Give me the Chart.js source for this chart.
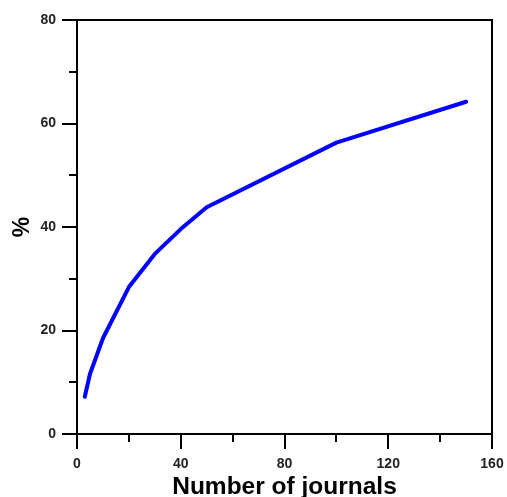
<!DOCTYPE html>
<html>
<head>
<meta charset="utf-8">
<script src="https://cdn.jsdelivr.net/npm/chart.js@4"></script>
<style>
  html, body { margin: 0; padding: 0; background: #fff; overflow: hidden; }
  #wrap { width: 507px; height: 497px; }
</style>
</head>
<body>
<div id="wrap"><canvas id="journalChart"></canvas></div>
<script>
const journals = [3, 5, 10, 20, 30, 40, 50, 100, 150];
const percent = [7.2, 11.6, 18.5, 28.4, 34.8, 39.6, 43.8, 56.3, 64.2];
const xMajor = [0, 40, 80, 120, 160];
const yMajor = [0, 20, 40, 60, 80];
const xMinor = [20, 60, 100, 140];
const yMinor = [10, 30, 50, 70];

// top/right frame lines plus all the outward ticks (major long, minor short)
const frameAndTicks = {
  id: "frameAndTicks",
  afterDraw(chart) {
    const ctx = chart.ctx;
    const a = chart.chartArea;
    const x = chart.scales.x;
    const y = chart.scales.y;
    ctx.save();
    ctx.strokeStyle = "#000";
    ctx.lineWidth = 2;
    ctx.beginPath();
    ctx.moveTo(a.left, a.top);
    ctx.lineTo(a.right, a.top);
    ctx.lineTo(a.right, a.bottom);
    ctx.stroke();

    ctx.beginPath();
    const xt = (v, len) => {
      const px = Math.round(x.getPixelForValue(v));
      ctx.moveTo(px, a.bottom);
      ctx.lineTo(px, a.bottom + len);
    };
    const yt = (v, len) => {
      const py = Math.round(y.getPixelForValue(v));
      ctx.moveTo(a.left, py);
      ctx.lineTo(a.left - len, py);
    };
    xMajor.forEach((v) => xt(v, 15));
    yMajor.forEach((v) => yt(v, 15));
    xMinor.forEach((v) => xt(v, 8));
    yMinor.forEach((v) => yt(v, 8));
    ctx.stroke();
    ctx.restore();
  },
};

new Chart(document.getElementById("journalChart"), {
  type: "line",
  data: {
    datasets: [
      {
        data: journals.map((j, i) => ({ x: j, y: percent[i] })),
        borderColor: "#0000ff",
        borderWidth: 4,
        pointRadius: 0,
        fill: false,
        tension: 0,
        borderJoinStyle: "round",
        borderCapStyle: "round",
      },
    ],
  },
  options: {
    responsive: true,
    maintainAspectRatio: false,
    animation: false,
    layout: { padding: { top: 20, right: 15, left: 0, bottom: 0 } },
    plugins: { legend: { display: false }, tooltip: { enabled: false } },
    scales: {
      x: {
        type: "linear",
        min: 0,
        max: 160,
        afterFit: (s) => {
          s.height = 63;
          s.paddingLeft = 0;
          s.paddingRight = 0;
        },
        border: { color: "#000", width: 2 },
        grid: { drawOnChartArea: false, tickLength: 15, tickColor: "rgba(0,0,0,0)" },
        ticks: {
          stepSize: 40,
          padding: 7,
          maxRotation: 0,
          color: "#222",
          font: { family: "Liberation Sans", size: 14, weight: "bold" },
        },
        title: {
          display: true,
          text: "Number of journals",
          color: "#000",
          padding: { top: 0, bottom: -5 },
          font: { family: "Liberation Sans", size: 24.5, weight: "bold" },
        },
      },
      y: {
        min: 0,
        max: 80,
        afterFit: (s) => {
          s.width = 77;
          s.paddingTop = 0;
          s.paddingBottom = 0;
        },
        border: { color: "#000", width: 2 },
        grid: { drawOnChartArea: false, tickLength: 15, tickColor: "rgba(0,0,0,0)" },
        ticks: {
          stepSize: 20,
          padding: 6,
          color: "#222",
          font: { family: "Liberation Sans", size: 14, weight: "bold" },
        },
        title: {
          display: true,
          text: "%",
          color: "#000",
          padding: { top: 9, bottom: 0 },
          font: { family: "Liberation Sans", size: 23, weight: "bold" },
        },
      },
    },
  },
  plugins: [frameAndTicks],
});
</script>
</body>
</html>
